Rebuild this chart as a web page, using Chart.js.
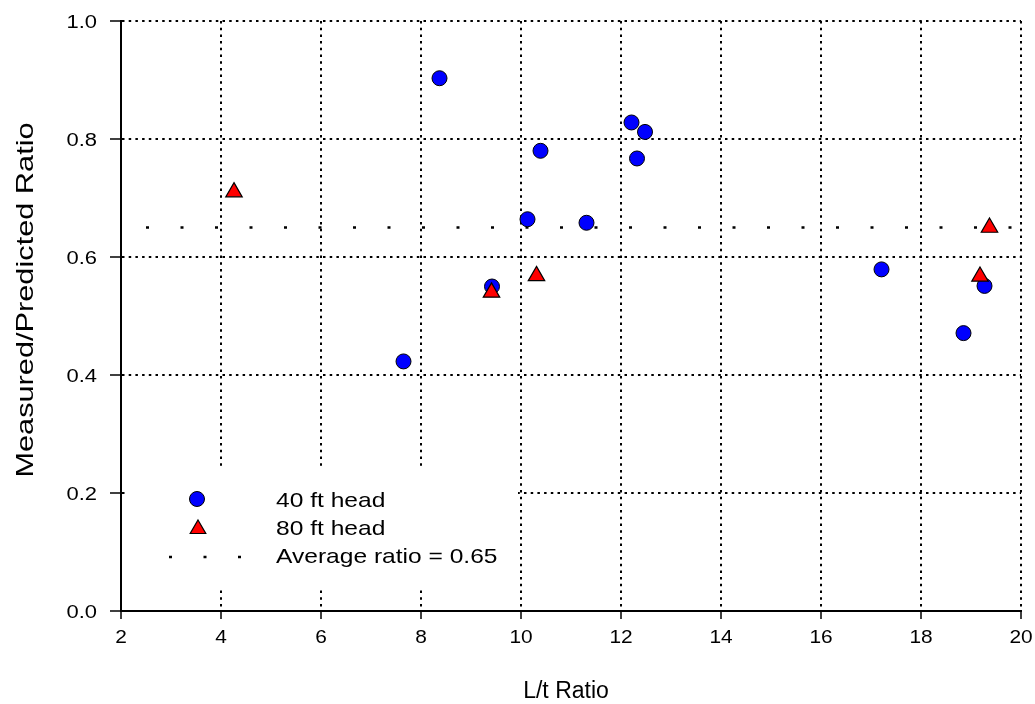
<!DOCTYPE html>
<html>
<head>
<meta charset="utf-8">
<script src="https://cdn.jsdelivr.net/npm/chart.js@4"></script>
<style>
    body { margin: 0; background: #fff; }
    #wrap { width: 1035px; height: 704px; }
</style>
</head>
<body>
<div id="wrap"><canvas id="myChart" width="1035" height="704"></canvas></div>
<script>
// 40 ft head
const lt40 = [7.65, 8.37, 9.42, 10.13, 10.39, 11.31, 12.21, 12.48, 12.32, 17.21, 18.85, 19.27];
const ratio40 = [0.423, 0.903, 0.550, 0.664, 0.780, 0.658, 0.828, 0.812, 0.767, 0.579, 0.471, 0.551];
// 80 ft head
const lt80 = [4.26, 9.41, 10.31, 19.18, 19.37];
const ratio80 = [0.710, 0.540, 0.568, 0.567, 0.650];
// average line
const avgRatio = 0.65;
const avgRange = [2.5, 20];

const xTicks = [2, 4, 6, 8, 10, 12, 14, 16, 18, 20];
const yTicks = [0.0, 0.2, 0.4, 0.6, 0.8, 1.0];

const legendLabels = ["40 ft head", "80 ft head", "Average ratio = 0.65"];
const xTitle = "L/t Ratio";
const yTitle = "Measured/Predicted Ratio";

const FONT = "'Liberation Sans', Arial, sans-serif";

function toPoints(xs, ys) {
    return xs.map((x, i) => ({ x: x, y: ys[i] }));
}

// text in the reference is a bit wider than Arial, so stretch it
function wideText(ctx, text, x, y, size, sx, align, rot) {
    ctx.save();
    ctx.translate(x, y);
    if (rot) ctx.rotate(rot);
    ctx.scale(sx, 1);
    ctx.font = size + "px " + FONT;
    ctx.fillStyle = "#000";
    ctx.textAlign = align;
    ctx.textBaseline = "alphabetic";
    ctx.fillText(text, 0, 0);
    ctx.restore();
}

// white box behind the legend (covers the grid), legend and axis texts
const legendBox = {
    id: "legendBox",
    beforeDatasetsDraw(chart) {
        const ctx = chart.ctx;
        ctx.save();
        ctx.fillStyle = "#ffffff";
        ctx.fillRect(128, 467, 390, 121);
        ctx.restore();
    },
    afterDatasetsDraw(chart) {
        const ctx = chart.ctx;
        ctx.save();
        // circle
        ctx.beginPath();
        ctx.arc(197, 499, 7.5, 0, Math.PI * 2);
        ctx.fillStyle = "#0000ff";
        ctx.fill();
        ctx.lineWidth = 1;
        ctx.strokeStyle = "#000";
        ctx.stroke();
        // triangle
        const r = 9;
        const tx = 198, ty = 529;
        ctx.beginPath();
        for (let k = 0; k < 3; k++) {
            const a = k * 2 * Math.PI / 3;
            const px = tx + Math.sin(a) * r, py = ty - Math.cos(a) * r;
            if (k === 0) ctx.moveTo(px, py); else ctx.lineTo(px, py);
        }
        ctx.closePath();
        ctx.fillStyle = "#ff0000";
        ctx.fill();
        ctx.lineWidth = 1.2;
        ctx.stroke();
        // dotted sample
        ctx.beginPath();
        ctx.setLineDash([3, 31.5]);
        ctx.lineWidth = 2.5;
        ctx.moveTo(169, 557);
        ctx.lineTo(245, 557);
        ctx.stroke();
        ctx.setLineDash([]);
        ctx.restore();

        wideText(ctx, legendLabels[0], 276, 507, 21, 1.17, "left");
        wideText(ctx, legendLabels[1], 276, 535, 21, 1.17, "left");
        wideText(ctx, legendLabels[2], 276, 563, 21, 1.17, "left");
    },
    afterDraw(chart) {
        const ctx = chart.ctx;
        const xs = chart.scales.x, ys = chart.scales.y;
        xTicks.forEach(v => wideText(ctx, String(v), xs.getPixelForValue(v), 643, 19, 1.1, "center"));
        yTicks.forEach(v => wideText(ctx, v.toFixed(1), 97, ys.getPixelForValue(v) + 7, 18, 1.22, "right"));
        wideText(ctx, xTitle, 566, 698, 23, 1.0, "center");
        wideText(ctx, yTitle, 33, 300, 24, 1.28, "center", -Math.PI / 2);
    }
};

const ctx = document.getElementById("myChart").getContext("2d");

new Chart(ctx, {
    type: "scatter",
    data: {
        datasets: [
            {
                label: legendLabels[1],
                data: toPoints(lt80, ratio80),
                pointStyle: "triangle",
                pointRadius: 9.5,
                backgroundColor: "#ff0000",
                borderColor: "#000",
                borderWidth: 1.2,
                order: 1
            },
            {
                label: legendLabels[0],
                data: toPoints(lt40, ratio40),
                pointStyle: "circle",
                pointRadius: 7.5,
                backgroundColor: "#0000ff",
                borderColor: "#000",
                borderWidth: 1,
                order: 2
            },
            {
                type: "line",
                label: legendLabels[2],
                data: avgRange.map(x => ({ x: x, y: avgRatio })),
                borderColor: "#000",
                borderWidth: 2.5,
                borderDash: [3, 31.5],
                pointRadius: 0,
                fill: false,
                order: 3
            }
        ]
    },
    options: {
        responsive: false,
        animation: false,
        layout: { padding: { top: 21, right: 14, left: 0, bottom: 0 }, autoPadding: false },
        plugins: {
            legend: { display: false },
            tooltip: { enabled: false }
        },
        scales: {
            x: {
                type: "linear",
                min: 2,
                max: 20,
                afterBuildTicks: scale => { scale.ticks = xTicks.map(v => ({ value: v })); },
                afterFit: scale => { scale.height = 93; },
                grid: { color: "#000", lineWidth: 2, tickLength: 8, tickColor: "#000", tickWidth: 1.5 },
                border: { color: "#000", width: 2, dash: [2.5, 4.2] },
                ticks: { color: "rgba(0,0,0,0)", maxRotation: 0, font: { family: FONT, size: 18 } }
            },
            y: {
                type: "linear",
                min: 0,
                max: 1,
                afterBuildTicks: scale => { scale.ticks = yTicks.map(v => ({ value: v })); },
                afterFit: scale => { scale.width = 121; },
                grid: { color: "#000", lineWidth: 2, tickLength: 11, tickColor: "#000", tickWidth: 1.5 },
                border: { color: "#000", width: 2, dash: [2.5, 4.2] },
                ticks: { color: "rgba(0,0,0,0)", font: { family: FONT, size: 18 } }
            }
        }
    },
    plugins: [legendBox]
});
</script>
</body>
</html>
